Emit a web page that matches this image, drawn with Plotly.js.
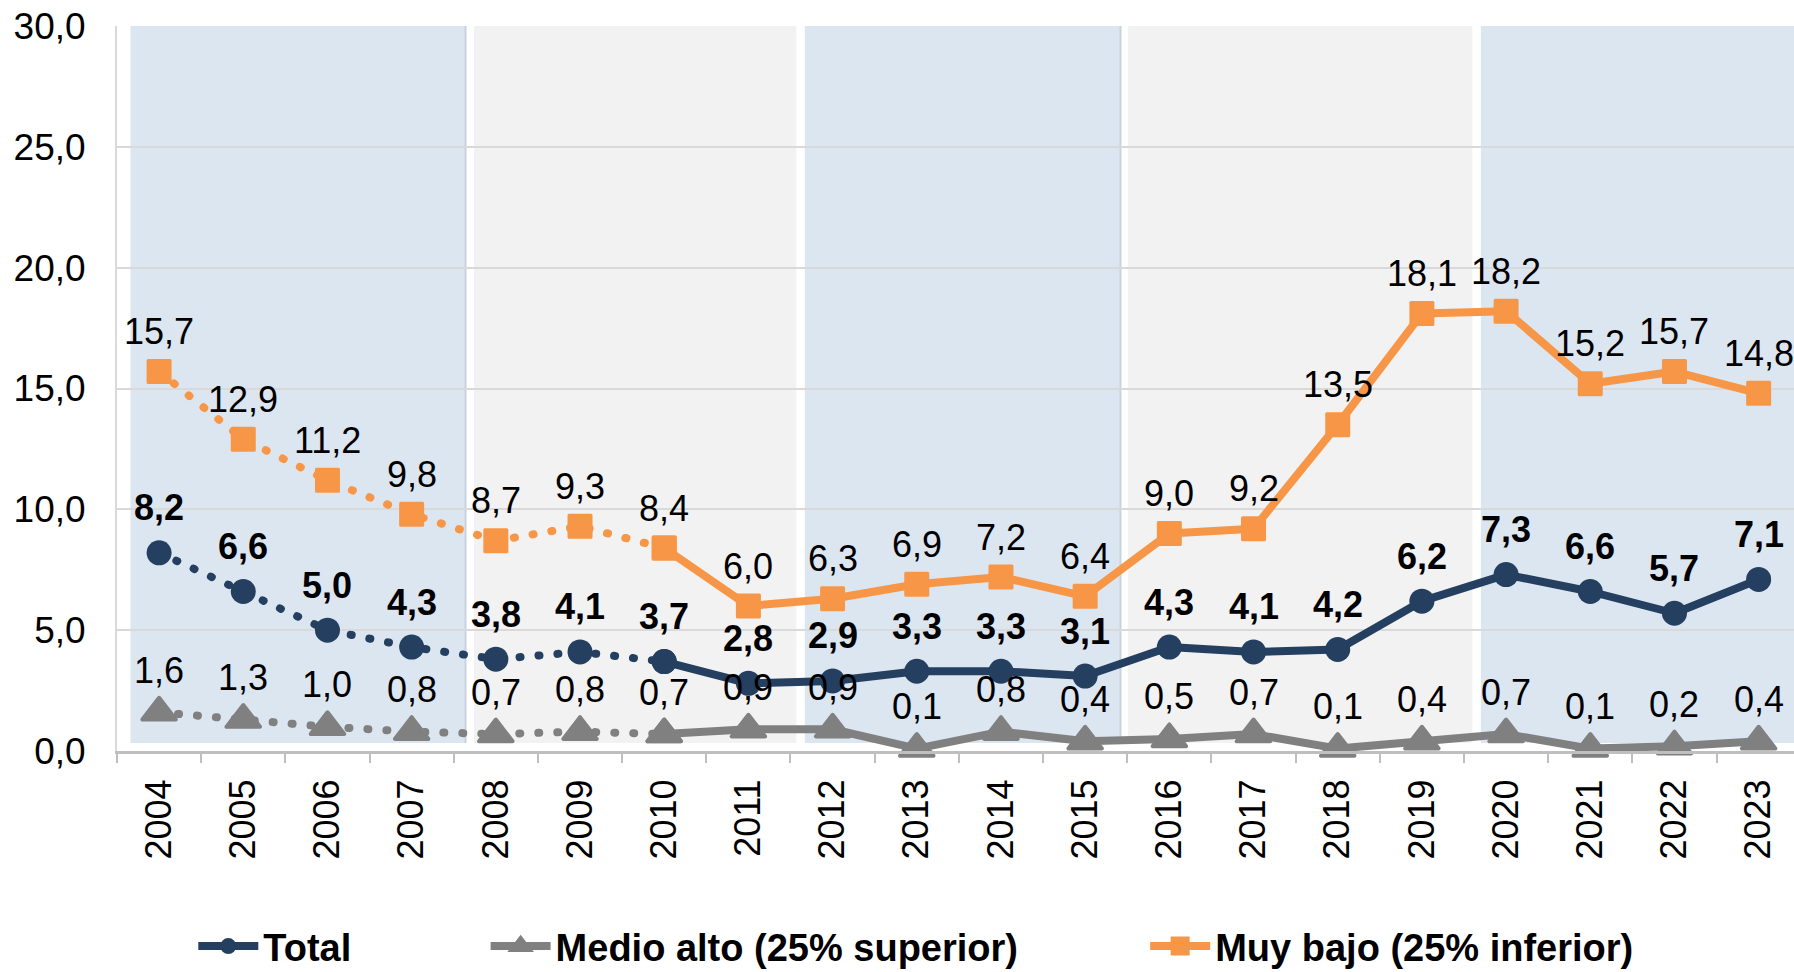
<!DOCTYPE html>
<html>
<head>
<meta charset="utf-8">
<script src="https://cdn.plot.ly/plotly-3.0.1.min.js"></script>
<style>
  html, body { margin: 0; padding: 0; background: #fff; }
  #chart { width: 1794px; height: 972px; }
  .scatterlayer .js-line { stroke-linecap: round; stroke-linejoin: round; }
  .scatterlayer .point { stroke-linejoin: round; }
</style>
</head>
<body>
<div id="chart"></div>
<script>
// ---- data ----
const years = ['2004','2005','2006','2007','2008','2009','2010','2011','2012','2013',
               '2014','2015','2016','2017','2018','2019','2020','2021','2022','2023'];
const total     = [8.2, 6.6, 5.0, 4.3, 3.8, 4.1, 3.7, 2.8, 2.9, 3.3, 3.3, 3.1, 4.3, 4.1, 4.2, 6.2, 7.3, 6.6, 5.7, 7.1];
const medioAlto = [1.6, 1.3, 1.0, 0.8, 0.7, 0.8, 0.7, 0.9, 0.9, 0.1, 0.8, 0.4, 0.5, 0.7, 0.1, 0.4, 0.7, 0.1, 0.2, 0.4];
const muyBajo   = [15.7, 12.9, 11.2, 9.8, 8.7, 9.3, 8.4, 6.0, 6.3, 6.9, 7.2, 6.4, 9.0, 9.2, 13.5, 18.1, 18.2, 15.2, 15.7, 14.8];
const seriesNames = ['Total', 'Medio alto (25% superior)', 'Muy bajo (25% inferior)'];
const dottedUntil = '2010';

// ---- styles ----
const FONT = 'Liberation Sans, Arial, sans-serif';
const styles = [
  {values: total,     color: '#243F60', symbol: 'circle',      size: 25, mline: 0, shift: 45, bold: true,  legend: 'legend'},
  {values: medioAlto, color: '#808080', symbol: 'triangle-up', size: 29, mline: 4, shift: 42, bold: false, legend: 'legend2'},
  {values: muyBajo,   color: '#F79646', symbol: 'square',      size: 22, mline: 3, shift: 40, bold: false, legend: 'legend3'}
];

const split = years.indexOf(dottedUntil);
const fmt = v => v.toFixed(1).replace('.', ',');

const traces = [];
const annotations = [];
styles.forEach((s, k) => {
  const marker = {symbol: s.symbol, size: s.size, color: s.color,
                  line: {color: s.color, width: s.mline}};
  traces.push({
    x: years.slice(0, split + 1), y: s.values.slice(0, split + 1),
    type: 'scatter', mode: 'lines+markers', cliponaxis: false,
    line: {color: s.color, width: 8, dash: '1px,18px'},
    marker: marker, showlegend: false, hoverinfo: 'skip', legend: s.legend
  });
  traces.push({
    x: years.slice(split), y: s.values.slice(split),
    type: 'scatter', mode: 'lines+markers', cliponaxis: false,
    name: seriesNames[k],
    line: {color: s.color, width: 8},
    marker: marker, legend: s.legend
  });
  s.values.forEach((v, i) => {
    annotations.push({
      // category axis: annotation x is the category's serial index
      x: years.indexOf(years[i]), y: v, xref: 'x', yref: 'y',
      text: s.bold ? '<b>' + fmt(v) + '</b>' : fmt(v),
      showarrow: false, yshift: s.shift,
      font: {family: FONT, size: 36, color: '#000'}
    });
  });
});

// background bands (layout decoration)
const bandDefs = [
  [-0.34, 3.64, '#DCE6F1'],
  [3.74, 7.57, '#F2F2F2'],
  [7.67, 11.42, '#DCE6F1'],
  [11.51, 15.60, '#F2F2F2'],
  [15.70, 19.6, '#DCE6F1']
];
const shapes = bandDefs.map(b => ({
  type: 'rect', xref: 'x', yref: 'y', x0: b[0], x1: b[1], y0: 0.33, y1: 30.14,
  fillcolor: b[2], line: {width: 0}, layer: 'below'
}));
bandDefs.forEach(b => {
  if (b[2] === '#DCE6F1') {
    shapes.push({type: 'line', xref: 'x', yref: 'y', x0: b[1], x1: b[1], y0: 0.33, y1: 30.14,
                 line: {color: '#C9D3E0', width: 2}, layer: 'below'});
  }
});

const legendBase = {
  orientation: 'h', y: -0.2695, yanchor: 'middle', xanchor: 'left',
  bgcolor: 'rgba(0,0,0,0)', borderwidth: 0, itemwidth: 60,
  font: {family: FONT, size: 38, color: '#000', weight: 'bold'}
};

const layout = {
  width: 1794, height: 972,
  margin: {l: 117, r: 0, t: 26, b: 221, autoexpand: false},
  paper_bgcolor: '#fff', plot_bgcolor: '#fff',
  separators: ',.',
  font: {family: FONT, size: 36, color: '#000'},
  xaxis: {
    type: 'category', range: [-0.5, 19.42], autorange: false,
    tickangle: -90, ticks: 'outside', ticklen: 9, tickwidth: 2, tickcolor: '#BFBFBF',
    tickson: 'boundaries', showline: true, linecolor: '#BFBFBF', linewidth: 3,
    showgrid: false, ticklabelstandoff: 11, automargin: false,
    tickfont: {family: FONT, size: 36, color: '#000'}
  },
  yaxis: {
    range: [0, 30], autorange: false, dtick: 5, tick0: 0, tickformat: '.1f',
    showgrid: true, gridcolor: '#D9D9D9', gridwidth: 2, zeroline: false,
    showline: true, linecolor: '#D9D9D9', linewidth: 2, ticks: '',
    ticklabelstandoff: 22, automargin: false,
    tickfont: {family: FONT, size: 37, color: '#000'}
  },
  shapes: shapes,
  annotations: annotations,
  showlegend: true,
  legend:  Object.assign({}, legendBase, {x: 0.0455}),
  legend2: Object.assign({}, legendBase, {x: 0.2198}),
  legend3: Object.assign({}, legendBase, {x: 0.6131})
};

Plotly.newPlot('chart', traces, layout, {displayModeBar: false, staticPlot: true});
</script>
</body>
</html>
